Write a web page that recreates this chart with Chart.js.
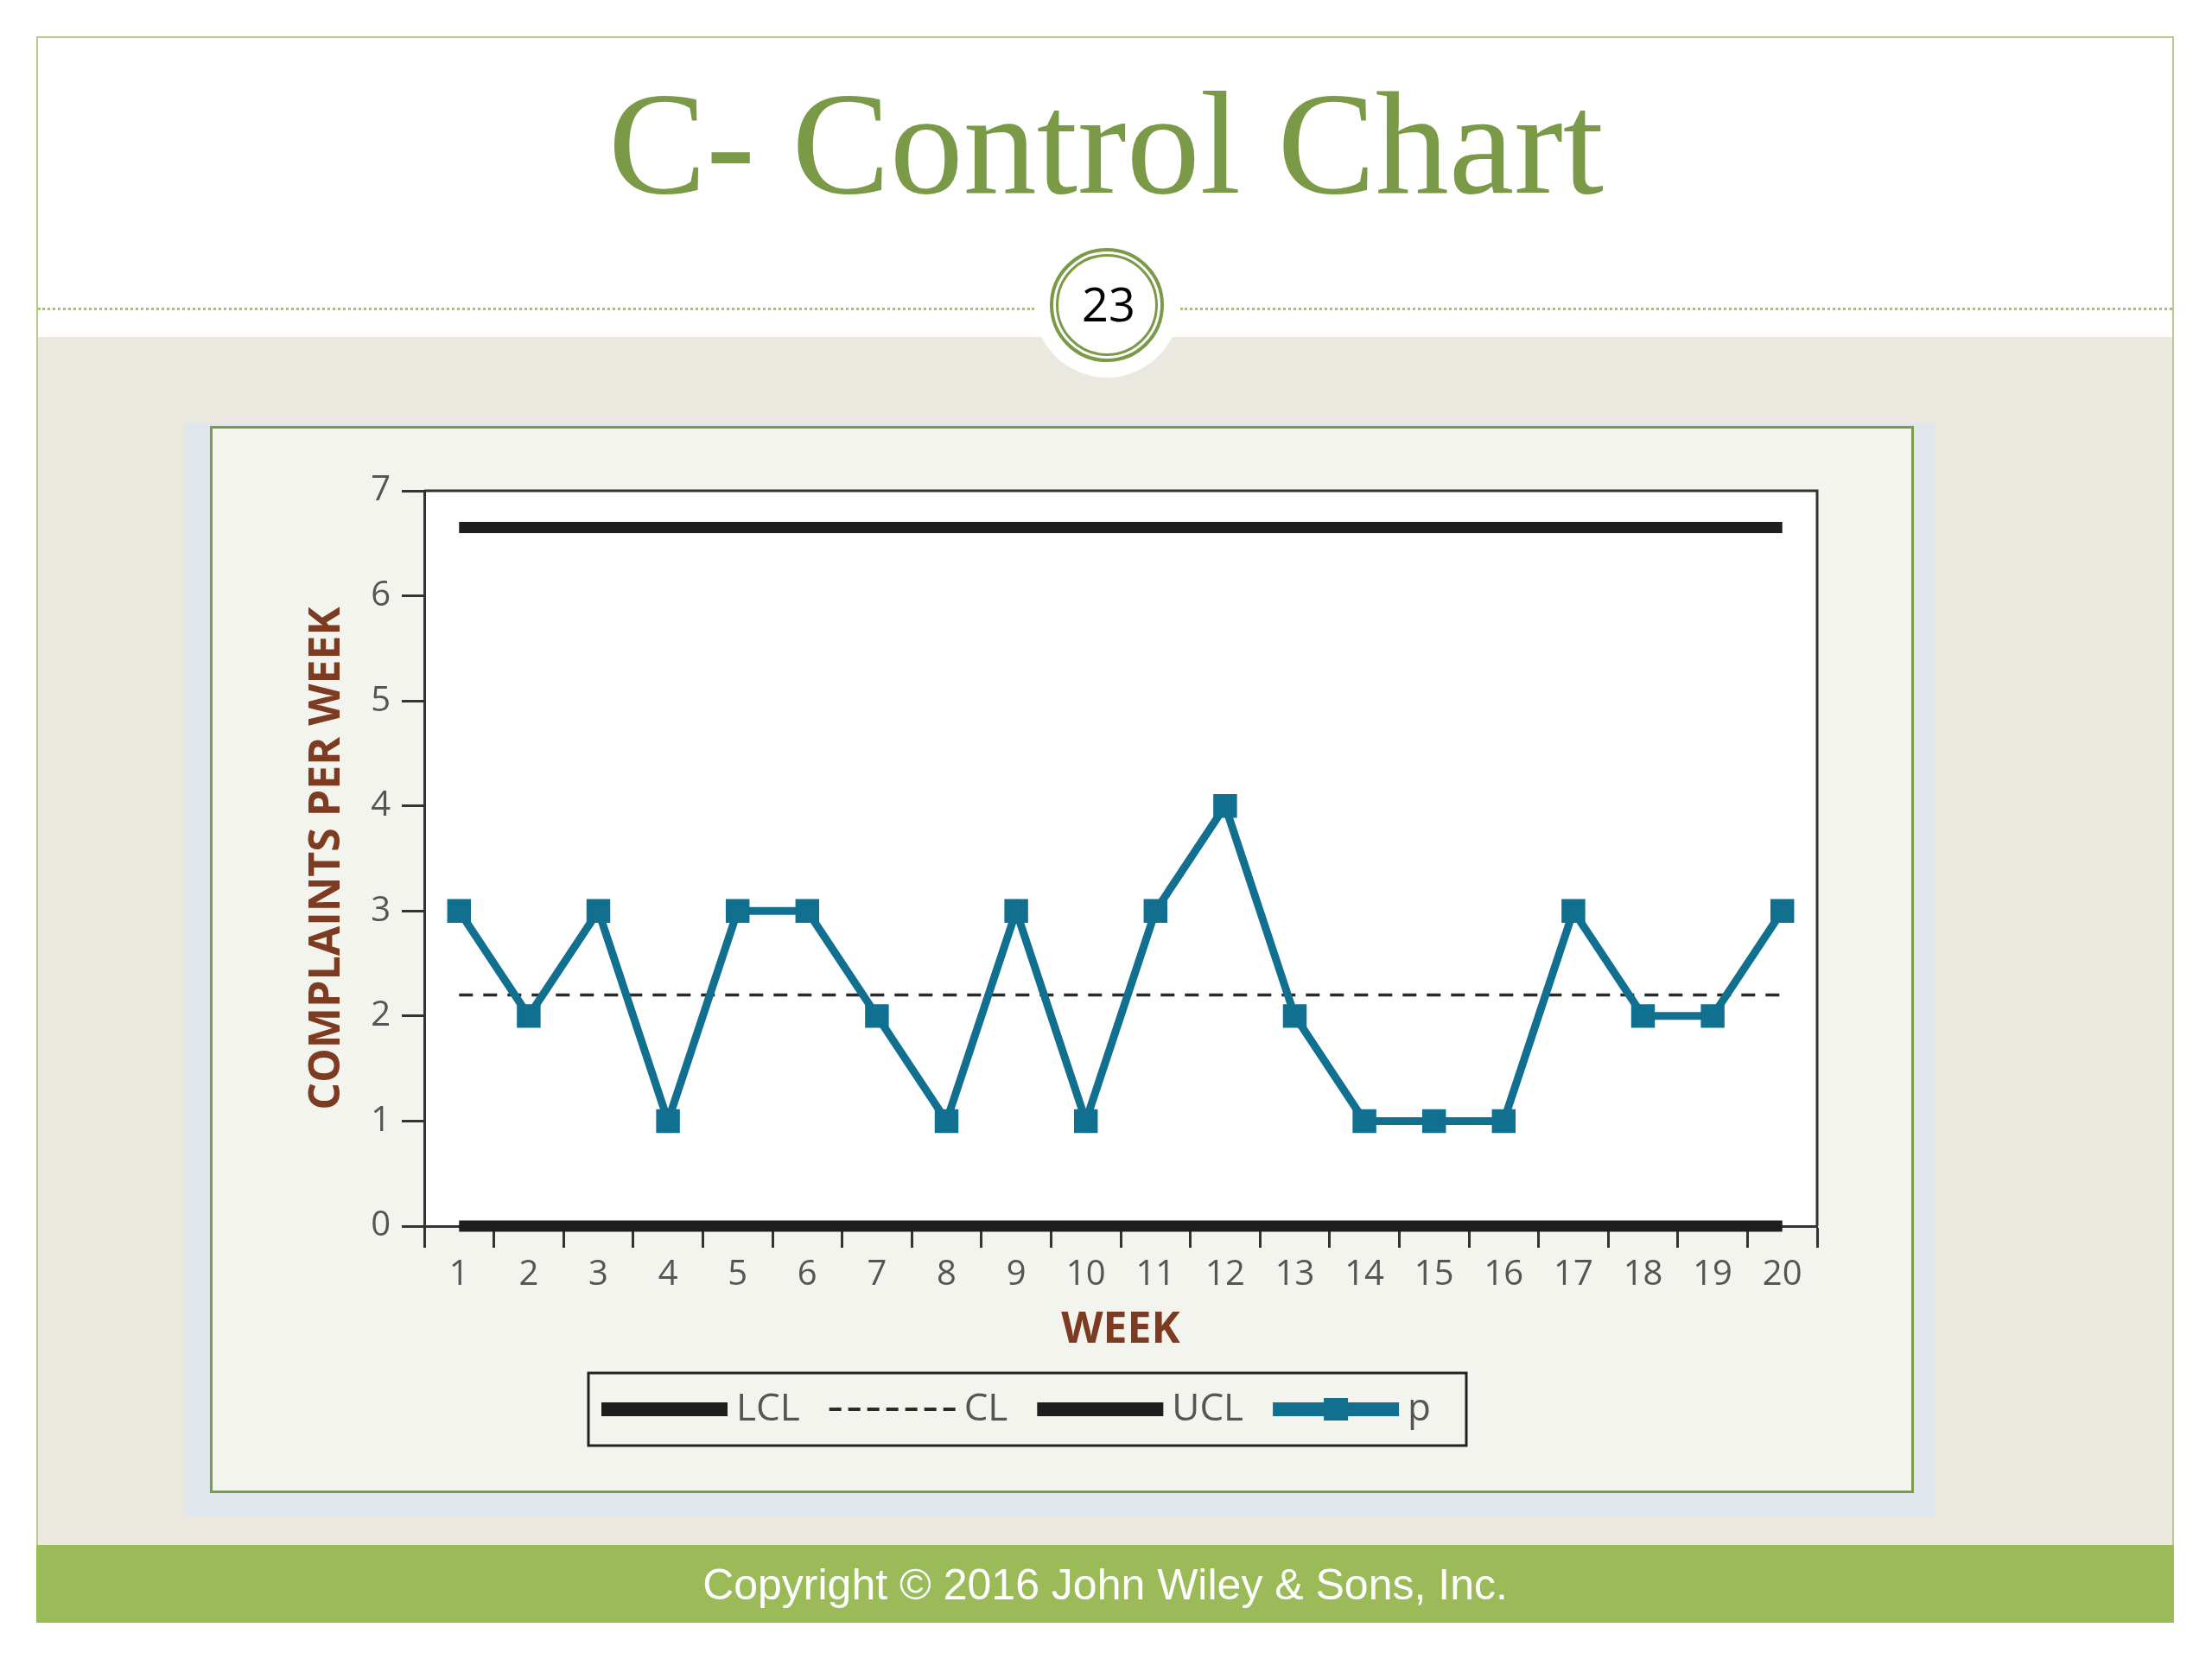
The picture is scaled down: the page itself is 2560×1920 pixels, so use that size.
<!DOCTYPE html>
<html>
<head>
<meta charset="utf-8">
<title>C- Control Chart</title>
<script src="https://cdn.jsdelivr.net/npm/chart.js@4.4.1/dist/chart.umd.min.js"></script>
<style>
  html, body { margin: 0; padding: 0; background: #fff; }
  body { width: 2560px; height: 1920px; position: relative; overflow: hidden; }
  .slide { position: absolute; left: 42px; top: 42px; width: 2474px; height: 1836px;
           background: #ebe9df; border: 2px solid #b7ca92; box-sizing: border-box; }
  .header { position: absolute; left: 44px; top: 44px; width: 2470px; height: 346px; background: #fff; }
  .title { position: absolute; left: 0; top: 81px; width: 2560px; text-align: center;
           font: 170px/1 "Liberation Serif", "DejaVu Serif", serif; color: #7a9a48; }
  .dots { position: absolute; top: 356px; height: 0; border-top: 3px dotted #a9c080; }
  .halo { position: absolute; left: 1197px; top: 269px; width: 168px; height: 168px;
          border-radius: 50%; background: #fff; }
  .ring { position: absolute; border-radius: 50%; border-style: solid; border-color: #7a9a48; box-sizing: border-box; }
  .num { position: absolute; left: 1203px; top: 324px; width: 160px; text-align: center;
         font: 54px/1 "Open Sans", sans-serif; color: #000; }
  .shade { position: absolute; left: 213px; top: 490px; width: 2027px; height: 1265px; background: #dfe7ec; }
  .panel { position: absolute; left: 243px; top: 493px; width: 1972px; height: 1235px;
           background: #f4f4ee; border: 3px solid #7d9b4c; box-sizing: border-box; }
  .chart-box { position: absolute; left: 243px; top: 493px; width: 1972px; height: 1234px; }
  .footer { position: absolute; left: 42px; top: 1788px; width: 2474px; height: 90px; background: #9bbb59;
            color: #fff; text-align: center; font: 50px/92px "Liberation Sans", Arial, sans-serif; }
</style>
</head>
<body>
<div class="slide"></div>
<div class="header"></div>
<div class="title">C- Control Chart</div>
<div class="dots" style="left:44px; width:1153px;"></div>
<div class="dots" style="left:1366px; width:1148px;"></div>
<div class="halo"></div>
<div class="ring" style="left:1215px; top:287px; width:132px; height:132px; border-width:4px;"></div>
<div class="ring" style="left:1222px; top:294px; width:118px; height:118px; border-width:3px;"></div>
<div class="num">23</div>
<div class="shade"></div>
<div class="panel"></div>
<div class="chart-box"><canvas id="cChart" width="1972" height="1234"></canvas></div>
<div class="footer">Copyright © 2016 John Wiley &amp; Sons, Inc.</div>

<script>
// data
const weeks = ['1', '2', '3', '4', '5', '6', '7', '8', '9', '10',
               '11', '12', '13', '14', '15', '16', '17', '18', '19', '20'];
const complaints = [3, 2, 3, 1, 3, 3, 2, 1, 3, 1, 3, 4, 2, 1, 1, 1, 3, 2, 2, 3];
const lowerLimit = 0;
const centerLine = 2.2;
const upperLimit = 6.65;
const yMin = 0;
const yMax = 7;
const seriesNames = ['LCL', 'CL', 'UCL', 'p'];

const LIMIT_COLOR = '#1e1e1e';
const P_COLOR = '#11708f';
const TITLE_COLOR = '#7d3b22';
const TICK_COLOR = '#555';
const AXIS_COLOR = '#333';

// white plot area + top/right frame
const plotFrame = {
    id: 'plotFrame',
    beforeDraw(chart) {
        const { ctx, chartArea: a } = chart;
        ctx.save();
        ctx.fillStyle = '#fff';
        ctx.fillRect(a.left, a.top, a.right - a.left, a.bottom - a.top);
        ctx.restore();
    },
    beforeDatasetsDraw(chart) {
        const { ctx, chartArea: a } = chart;
        ctx.save();
        ctx.strokeStyle = AXIS_COLOR;
        ctx.lineWidth = 3;
        ctx.beginPath();
        ctx.moveTo(a.left, a.top);
        ctx.lineTo(a.right, a.top);
        ctx.lineTo(a.right, a.bottom);
        ctx.stroke();
        ctx.restore();
    }
};

// boxed legend under the axis title, samples look like the lines
const boxLegend = {
    id: 'boxLegend',
    afterDraw(chart) {
        const { ctx } = chart;
        const box = { left: 438, top: 1096, right: 1454, bottom: 1180 };
        const midY = (box.top + box.bottom) / 2;
        const sampleLen = 146;
        ctx.save();
        ctx.strokeStyle = '#222';
        ctx.lineWidth = 3;
        ctx.strokeRect(box.left, box.top, box.right - box.left, box.bottom - box.top);

        ctx.font = '44px "Open Sans"';
        ctx.textBaseline = 'middle';
        ctx.textAlign = 'left';
        let x = box.left + 15;
        chart.data.datasets.forEach(ds => {
            ctx.save();
            ctx.strokeStyle = ds.borderColor;
            ctx.lineCap = 'butt';
            if (ds.borderDash && ds.borderDash.length) {
                ctx.lineWidth = 4;
                ctx.setLineDash([14, 8]);
            } else {
                ctx.lineWidth = 16;
            }
            ctx.beginPath();
            ctx.moveTo(x, midY);
            ctx.lineTo(x + sampleLen, midY);
            ctx.stroke();
            if (ds.pointRadius > 0) {
                ctx.fillStyle = ds.pointBackgroundColor;
                ctx.fillRect(x + sampleLen / 2 - 14, midY - 13, 28, 26);
            }
            ctx.restore();
            ctx.fillStyle = '#555';
            ctx.fillText(ds.label, x + sampleLen + 10, midY);
            x += sampleLen + 10 + ctx.measureText(ds.label).width + 34;
        });
        ctx.restore();
    }
};

const ctx = document.getElementById('cChart');
new Chart(ctx, {
    type: 'line',
    data: {
        labels: weeks,
        datasets: [
            {
                label: seriesNames[0],
                data: weeks.map(() => lowerLimit),
                borderColor: LIMIT_COLOR,
                borderWidth: 13,
                pointRadius: 0,
                clip: false,
                order: 2
            },
            {
                label: seriesNames[1],
                data: weeks.map(() => centerLine),
                borderColor: '#2a2a2a',
                borderWidth: 3.5,
                borderDash: [16, 12],
                pointRadius: 0,
                clip: false,
                order: 2
            },
            {
                label: seriesNames[2],
                data: weeks.map(() => upperLimit),
                borderColor: LIMIT_COLOR,
                borderWidth: 13,
                pointRadius: 0,
                clip: false,
                order: 2
            },
            {
                label: seriesNames[3],
                data: complaints,
                borderColor: P_COLOR,
                borderWidth: 9,
                pointStyle: 'rect',
                pointRadius: 18,
                pointBorderWidth: 2,
                pointBackgroundColor: P_COLOR,
                pointBorderColor: P_COLOR,
                tension: 0,
                clip: false,
                order: 0
            }
        ]
    },
    options: {
        responsive: false,
        animation: false,
        layout: { padding: { left: 0, top: 75, right: 112, bottom: 148 } },
        plugins: {
            legend: { display: false },
            tooltip: { enabled: false }
        },
        scales: {
            x: {
                type: 'category',
                offset: true,
                afterFit: (scale) => { scale.height = 160; },
                grid: {
                    offset: true,
                    drawOnChartArea: false,
                    drawTicks: true,
                    tickLength: 25,
                    tickWidth: 3,
                    tickColor: AXIS_COLOR
                },
                border: { color: AXIS_COLOR, width: 3 },
                ticks: {
                    autoSkip: false,
                    maxRotation: 0,
                    padding: 8,
                    color: TICK_COLOR,
                    font: { family: 'Open Sans', size: 40 }
                },
                title: {
                    display: true,
                    text: 'WEEK',
                    color: TITLE_COLOR,
                    padding: { top: 0, bottom: 9 },
                    font: { family: 'Open Sans', size: 50, weight: 'bold' }
                }
            },
            y: {
                min: yMin,
                max: yMax,
                afterFit: (scale) => { scale.width = 248; },
                grid: {
                    drawOnChartArea: false,
                    drawTicks: true,
                    tickLength: 26,
                    tickWidth: 3,
                    tickColor: AXIS_COLOR
                },
                border: { color: AXIS_COLOR, width: 3 },
                ticks: {
                    stepSize: 1,
                    padding: 13,
                    color: TICK_COLOR,
                    font: { family: 'Open Sans', size: 40 }
                },
                title: {
                    display: true,
                    text: 'COMPLAINTS PER WEEK',
                    color: TITLE_COLOR,
                    padding: { top: 106, bottom: 0 },
                    font: { family: 'Open Sans', size: 50, weight: 'bold' }
                }
            }
        }
    },
    plugins: [plotFrame, boxLegend]
});
</script>
</body>
</html>
